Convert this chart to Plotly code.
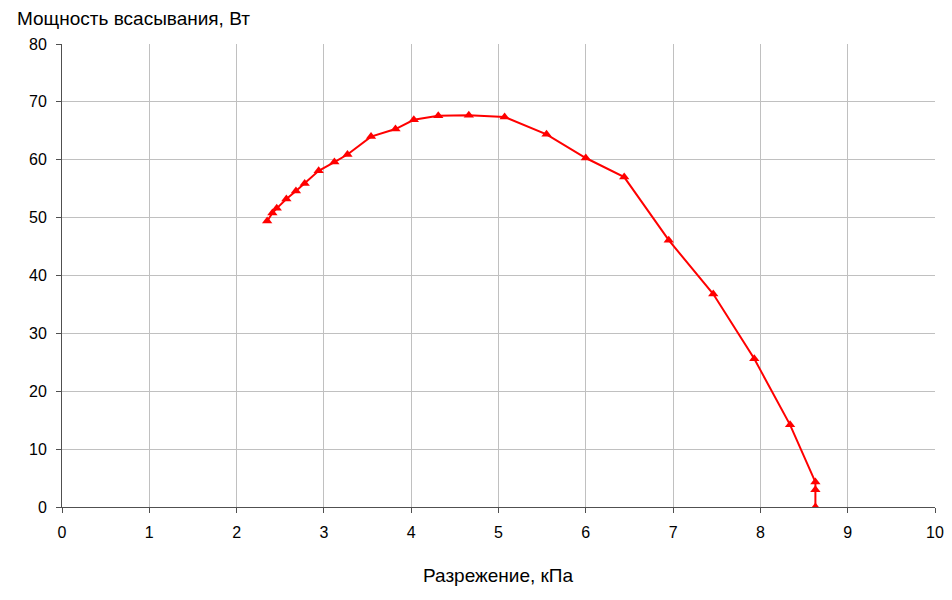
import plotly.graph_objects as go

# разрежение, кПа
vacuum = [2.35, 2.41, 2.46, 2.57, 2.68, 2.78, 2.94, 3.12, 3.27, 3.54, 3.82, 4.03,
          4.31, 4.66, 5.07, 5.55, 6.00, 6.44, 6.95, 7.46, 7.93, 8.34, 8.63, 8.63, 8.63]
# мощность всасывания, Вт
power = [49.4, 50.8, 51.6, 53.2, 54.6, 55.9, 58.1, 59.6, 60.9, 64.0, 65.3, 66.9,
         67.6, 67.7, 67.4, 64.4, 60.3, 57.0, 46.1, 36.8, 25.6, 14.2, 4.3, 3.0, 0.0]

fig = go.Figure()
fig.add_trace(go.Scatter(
    x=vacuum, y=power, mode='lines+markers',
    line=dict(color='#ff0000', width=2),
    marker=dict(symbol='triangle-up', size=9, color='#ff0000'),
    showlegend=False,
))

font = dict(family='Liberation Sans, Arial, sans-serif', size=16, color='#000000')
title_font = dict(family='Liberation Sans, Arial, sans-serif', size=19, color='#000000')

axis_style = dict(
    showgrid=True, gridcolor='#c0c0c0', gridwidth=1,
    zeroline=False, showline=True, linecolor='#505050', linewidth=1,
    ticks='outside', ticklen=5, tickcolor='#505050', ticklabelstandoff=6,
)

# page body adds an 8px offset, margins compensate for it
fig.update_layout(
    width=952, height=600,
    margin=dict(l=54, r=25, t=36, b=101, autoexpand=False),
    paper_bgcolor='white', plot_bgcolor='white',
    font=font,
    xaxis=dict(range=[0, 10], dtick=1, **axis_style),
    yaxis=dict(range=[0, 80], dtick=10, **axis_style),
    annotations=[
        dict(text='Мощность всасывания, Вт', xref='paper', yref='paper',
             x=-0.054, y=1.056, xanchor='left', yanchor='middle',
             showarrow=False, font=title_font),
        dict(text='Разрежение, кПа', xref='paper', yref='paper',
             x=0.5, y=-0.147, xanchor='center', yanchor='middle',
             showarrow=False, font=title_font),
    ],
)

fig.write_html("out.html")
